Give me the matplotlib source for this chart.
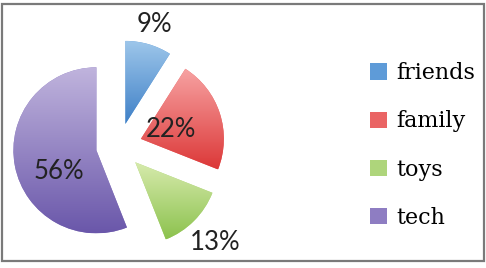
import matplotlib
matplotlib.use("Agg")
import matplotlib.pyplot as plt
import numpy as np
from matplotlib.colors import LinearSegmentedColormap
from matplotlib.patches import Rectangle

labels = ["friends", "family", "toys", "tech"]
shares = [9, 22, 13, 56]
pct_labels = ["9%", "22%", "13%", "56%"]
top_colors = ["#9DC6EA", "#F7A3A3", "#D8EBAE", "#C0B4DD"]
bottom_colors = ["#3F80C7", "#DC3838", "#8CC24E", "#6A57AA"]
mid_colors = ["#5E9BD8", "#EA6464", "#AED57B", "#8E7DC2"]

# label distance (in radii) and angle tweak (deg) from each wedge's own centre
label_dist = [1.25, 0.38, 1.36, 0.52]
label_turn = [0, 0, 0, 18]

fig = plt.figure(figsize=(4.86, 2.68), dpi=100)
ax = fig.add_axes([0, 0, 1, 1])
W, H = 486, 268

cx, cy, r = 119, H - 146, 83
# explode is in data units here (pixels)
wedges, _ = ax.pie(shares, startangle=90, counterclock=False, colors=mid_colors,
                   radius=r, center=(cx, cy), explode=[23] * 4, frame=True)

grad = np.linspace(1, 0, 256).reshape(-1, 1)
for w, top, bot, txt, d, t in zip(wedges, top_colors, bottom_colors, pct_labels,
                                  label_dist, label_turn):
    cmap = LinearSegmentedColormap.from_list("g", [top, bot])
    ext = w.get_path().get_extents()
    im = ax.imshow(grad, cmap=cmap, extent=(ext.x0, ext.x1, ext.y0, ext.y1),
                   origin="lower", aspect="auto", zorder=2)
    im.set_clip_path(w)
    mid = np.deg2rad((w.theta1 + w.theta2) / 2 + t)
    wx, wy = w.center
    ax.text(wx + d * r * np.cos(mid), wy + d * r * np.sin(mid), txt,
            ha="center", va="center", fontsize=18.5, family="Lato",
            color="#222222", zorder=3)

ax.set_xlim(0, W)
ax.set_ylim(0, H)
ax.set_aspect("equal")
ax.axis("off")

leg = ax.legend(wedges, labels, loc="center left", bbox_to_anchor=(350 / W, 0.457),
                frameon=False, handlelength=0.75, handleheight=0.75,
                handletextpad=0.45, labelspacing=1.18,
                prop={"family": "DejaVu Serif", "size": 16})

fig.patches.append(Rectangle((1.5 / W, 7 / H), 482.5 / W, 257 / H,
                             transform=fig.transFigure, fill=False,
                             edgecolor="#7a7a7a", linewidth=1.6))

fig.savefig("out.png", dpi=100)
